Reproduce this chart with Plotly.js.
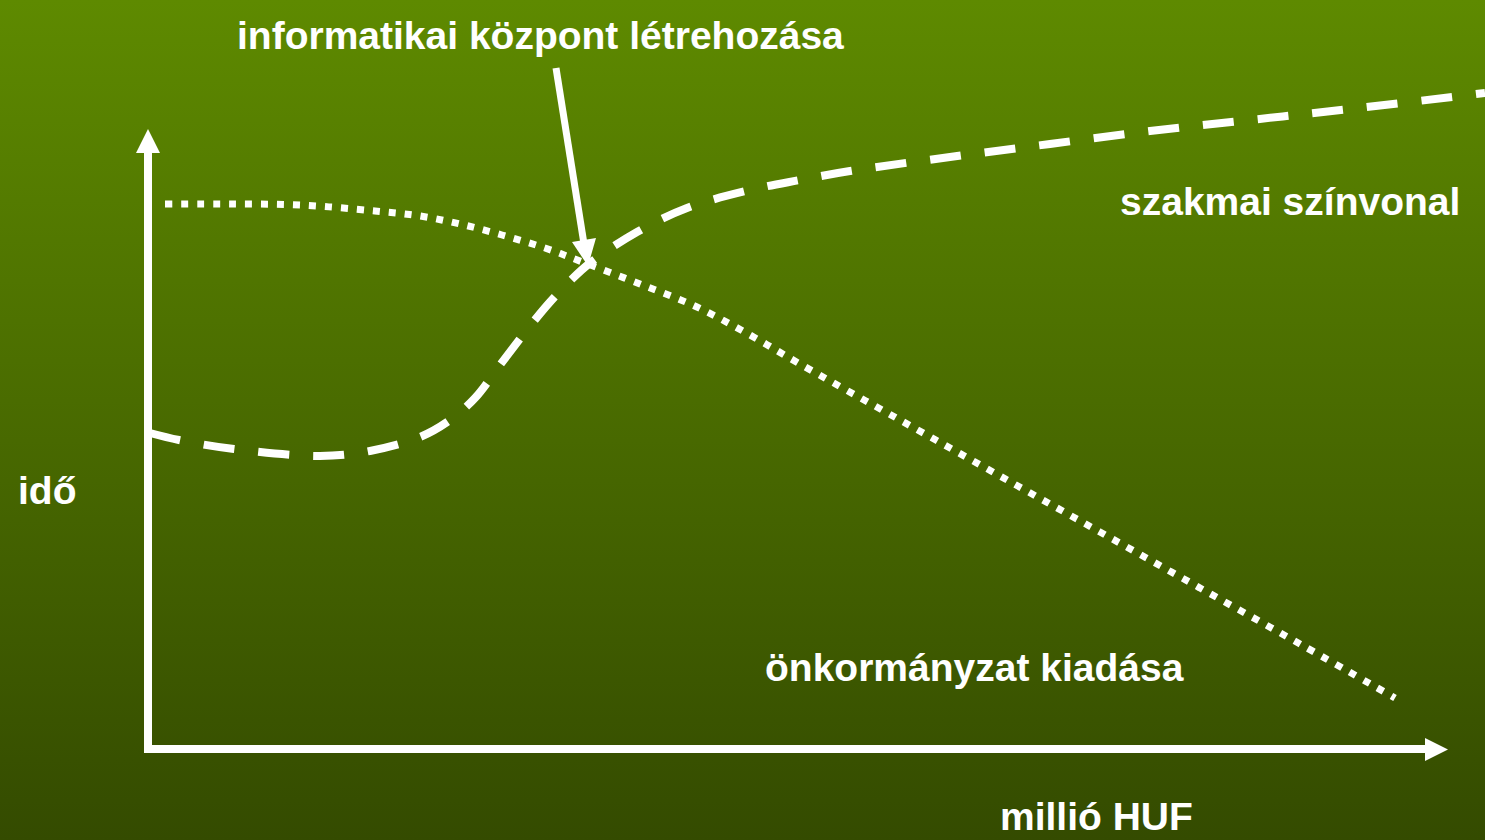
<!DOCTYPE html>
<html>
<head>
<meta charset="utf-8">
<script src="https://cdn.plot.ly/plotly-3.0.1.min.js"></script>
<style>
  html, body { margin: 0; padding: 0; }
  body { width: 1485px; height: 840px; background: linear-gradient(to bottom, #5e8a00 0%, #344b00 100%); overflow: hidden; }
  #chart { width: 1485px; height: 840px; }
</style>
</head>
<body>
<div id="chart"></div>
<script>
// Curve: önkormányzat kiadása (dotted)
const spendX = [165, 230, 300, 375, 420, 460, 502, 545, 585, 640, 697, 750, 800, 900, 1000, 1100, 1200, 1300, 1395];
const spendY = [204, 204, 205, 211, 216, 224, 235, 248, 263, 284, 307, 335, 364, 420, 476, 532, 588, 644, 698];
// Curve: szakmai színvonal (dashed)
const levelX = [150, 179, 234, 320, 370, 420, 450, 475, 500, 530, 550, 570, 590, 637, 687, 750, 800, 850, 950, 1050, 1150, 1250, 1350, 1485];
const levelY = [433, 440, 449, 456, 451, 437, 420, 398, 365, 326, 302, 281, 263, 232, 208, 190, 180, 171, 157, 144, 131, 120, 109, 93];

const titleText = "informatikai központ létrehozása";
const levelLabel = "szakmai színvonal";
const spendLabel = "önkormányzat kiadása";
const yLabel = "idő";
const xLabel = "millió HUF";

const W = 'white';
const FONT = {family: '"Liberation Sans", Arial, sans-serif', size: 39, color: W, weight: 'bold'};

const traces = [
  {x: spendX, y: spendY, mode: 'lines', type: 'scatter', hoverinfo: 'skip',
   line: {color: W, width: 7, dash: '7px,9px', shape: 'spline', smoothing: 1}},
  {x: levelX, y: levelY, mode: 'lines', type: 'scatter', hoverinfo: 'skip',
   line: {color: W, width: 8, dash: '31px,24px', shape: 'spline', smoothing: 1}}
];

function b(t){ return '<b>' + t + '</b>'; }

const layout = {
  width: 1485, height: 840,
  margin: {l: 0, r: 0, t: 0, b: 0, pad: 0},
  paper_bgcolor: 'rgba(0,0,0,0)',
  plot_bgcolor: 'rgba(0,0,0,0)',
  showlegend: false,
  xaxis: {range: [0, 1485], visible: false, fixedrange: true},
  yaxis: {range: [840, 0], visible: false, fixedrange: true},
  shapes: [
    // vertical axis
    {type: 'line', xref: 'x', yref: 'y', x0: 148, y0: 752, x1: 148, y1: 150, line: {color: W, width: 8}},
    {type: 'path', xref: 'x', yref: 'y', path: 'M136,153 L160,153 L148,129 Z', fillcolor: W, line: {color: W, width: 0}},
    // horizontal axis
    {type: 'line', xref: 'x', yref: 'y', x0: 144, y0: 749, x1: 1428, y1: 749, line: {color: W, width: 8}},
    {type: 'path', xref: 'x', yref: 'y', path: 'M1425,738 L1425,761 L1448,749.5 Z', fillcolor: W, line: {color: W, width: 0}},
    // pointer arrow
    {type: 'line', xref: 'x', yref: 'y', x0: 556, y0: 68, x1: 584, y1: 244, line: {color: W, width: 7}},
    {type: 'path', xref: 'x', yref: 'y', path: 'M572,242 L596,238 L588,266 Z', fillcolor: W, line: {color: W, width: 0}}
  ],
  annotations: [
    {text: b(titleText), x: 540, y: 35, xref: 'x', yref: 'y', xanchor: 'center', yanchor: 'middle', showarrow: false, font: FONT, borderpad: 0},
    {text: b(levelLabel), x: 1461, y: 201, xref: 'x', yref: 'y', xanchor: 'right', yanchor: 'middle', showarrow: false, font: FONT, borderpad: 0},
    {text: b(spendLabel), x: 974, y: 667, xref: 'x', yref: 'y', xanchor: 'center', yanchor: 'middle', showarrow: false, font: FONT, borderpad: 0},
    {text: b(yLabel), x: 17, y: 490, xref: 'x', yref: 'y', xanchor: 'left', yanchor: 'middle', showarrow: false, font: FONT, borderpad: 0},
    {text: b(xLabel), x: 1096, y: 816, xref: 'x', yref: 'y', xanchor: 'center', yanchor: 'middle', showarrow: false, font: FONT, borderpad: 0}
  ]
};

Plotly.newPlot('chart', traces, layout, {staticPlot: true, displayModeBar: false});
</script>
</body>
</html>
